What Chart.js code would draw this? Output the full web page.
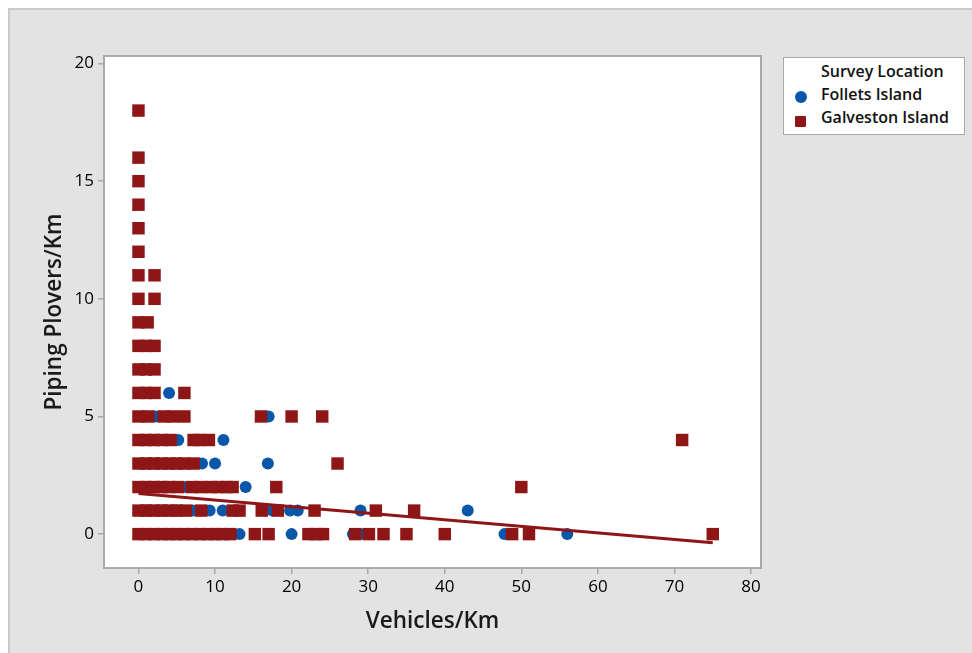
<!DOCTYPE html>
<html>
<head>
<meta charset="utf-8">
<title>Piping Plovers vs Vehicles</title>
<script src="https://cdn.jsdelivr.net/npm/chart.js@4.4.1/dist/chart.umd.min.js"></script>
<style>
  html, body { margin: 0; padding: 0; background: #fff; }
  #wrap { position: relative; width: 972px; height: 653px; overflow: hidden; }
  #panel {
    position: absolute; left: 8px; top: 8px; width: 980px; height: 660px;
    background: #e3e3e3; border-left: 2px solid #cbcbcb; border-top: 2px solid #cbcbcb;
  }
  #chart { position: absolute; left: 0; top: 0; }
  #legend {
    position: absolute; left: 783px; top: 57px; width: 180px; height: 76px;
    background: #fff; border: 1px solid #a9a9a9;
    font-family: 'Open Sans', sans-serif; font-size: 16px; font-weight: 600; color: #111;
  }
  #legend .row { position: absolute; left: 37px; white-space: nowrap; }
  #legend .dot { position: absolute; left: 11px; width: 12px; height: 12px; border-radius: 50%; }
  #legend .sq { position: absolute; left: 11px; width: 11px; height: 11px; border-radius: 1px; }
</style>
</head>
<body>
<div id="wrap">
  <div id="panel"></div>
  <canvas id="chart" width="972" height="653"></canvas>
  <div id="legend">
    <div class="row" style="top:2px">Survey Location</div>
    <span class="dot" style="top:33px;background:#0a56a8"></span>
    <div class="row" style="top:25px">Follets Island</div>
    <span class="sq" style="top:58px;background:#8e1616"></span>
    <div class="row" style="top:48px">Galveston Island</div>
  </div>
</div>
<script>
// plovers per km (y levels) and the vehicles per km counted at each level
const galvestonLevels = [18, 16, 15, 14, 13, 12, 11, 10, 9, 8, 7, 6, 5, 4, 3, 2, 1, 0];
const galvestonVehicles = [
  [0], [0], [0], [0], [0], [0],
  [0, 2.1], [0, 2.1], [0, 1.2],
  [0, 1, 2.1], [0, 1, 2.1], [0, 1, 2.1, 6],
  [0, 1.3, 3.3, 4.5, 6, 16, 20, 24],
  [0, 1, 2, 3, 4.2, 7.2, 8, 9.2, 71],
  [0, 1, 2, 3, 4, 5, 6, 7.2, 26],
  [0, 1, 2, 3, 4, 5.2, 7, 8.2, 9.5, 10.5, 11.5, 12.3, 18, 50],
  [0, 1, 2, 3, 4, 5, 6.2, 8.2, 12.3, 13.2, 16.1, 18.2, 23, 31, 36],
  [0, 1, 2, 3, 4, 5, 6, 7, 8, 9, 10, 11, 12, 15.2, 17, 22.2, 23.2, 24.1, 28.3, 30.1, 32, 35, 40, 48.8, 51, 75]
];

const folletsLevels = [9, 7, 6, 5, 4, 3, 2, 1, 0];
const folletsVehicles = [
  [0.5], [1.5], [0.5, 4],
  [0.7, 2.2, 17],
  [0.5, 3.5, 5.2, 11.1],
  [0.5, 1.5, 2.5, 3.5, 4.5, 5.5, 8.3, 10, 16.9],
  [1, 3, 6.3, 9, 14],
  [1, 3, 5, 7.1, 9.3, 11, 17.5, 19.8, 20.8, 29, 43],
  [0.5, 2, 4, 6, 8, 10, 13.2, 20, 28, 29, 47.8, 56]
];

// fitted line for Galveston Island
const fitX = [0, 75];
const fitY = [1.73, -0.37];

const xTicks = [0, 10, 20, 30, 40, 50, 60, 70, 80];
const yTicks = [0, 5, 10, 15, 20];

const BLUE = '#0a56a8';
const RED = '#8e1616';

function toPoints(levels, vehicles) {
  const pts = [];
  levels.forEach((y, i) => vehicles[i].forEach(x => pts.push({ x: x, y: y })));
  return pts;
}

const plotFrame = {
  id: 'plotFrame',
  beforeDraw(chart) {
    const { ctx, chartArea: a } = chart;
    ctx.save();
    ctx.fillStyle = '#fff';
    ctx.fillRect(a.left, a.top, a.right - a.left, a.bottom - a.top);
    ctx.restore();
  },
  beforeDatasetsDraw(chart) {
    const { ctx, chartArea: a } = chart;
    ctx.save();
    ctx.strokeStyle = '#a9a9a9';
    ctx.lineWidth = 2;
    ctx.strokeRect(a.left, a.top, a.right - a.left, a.bottom - a.top);
    ctx.restore();
  }
};

Chart.defaults.font.family = "'Open Sans', sans-serif";
Chart.defaults.color = '#111';

new Chart(document.getElementById('chart'), {
  type: 'scatter',
  data: {
    datasets: [
      {
        type: 'line',
        label: 'Fit',
        data: fitX.map((x, i) => ({ x: x, y: fitY[i] })),
        borderColor: RED,
        borderWidth: 3,
        pointRadius: 0,
        fill: false,
        order: 0
      },
      {
        label: 'Galveston Island',
        data: toPoints(galvestonLevels, galvestonVehicles),
        pointStyle: 'rect',
        pointRadius: 8.8,
        backgroundColor: RED,
        borderColor: RED,
        borderWidth: 0,
        order: 1
      },
      {
        label: 'Follets Island',
        data: toPoints(folletsLevels, folletsVehicles),
        pointStyle: 'circle',
        pointRadius: 6,
        backgroundColor: BLUE,
        borderColor: BLUE,
        borderWidth: 0,
        order: 2
      }
    ]
  },
  options: {
    responsive: false,
    animation: false,
    layout: { padding: { top: 56, right: 211, left: 0, bottom: 0 } },
    plugins: { legend: { display: false }, tooltip: { enabled: false } },
    scales: {
      x: {
        type: 'linear',
        min: -4.5,
        max: 81.3,
        afterBuildTicks: s => { s.ticks = xTicks.map(v => ({ value: v })); },
        afterFit: s => { s.height = 85; },
        border: { display: false },
        grid: { drawOnChartArea: false, drawTicks: true, tickLength: 6, color: '#a9a9a9', lineWidth: 1.5 },
        ticks: { font: { size: 17 }, padding: 3, color: '#000' },
        title: { display: true, text: 'Vehicles/Km', font: { size: 22.5, weight: '600' }, padding: { top: 0, bottom: 18 }, color: '#1a1a1a' }
      },
      y: {
        type: 'linear',
        min: -1.44,
        max: 20.32,
        afterBuildTicks: s => { s.ticks = yTicks.map(v => ({ value: v })); },
        afterFit: s => { s.width = 104; },
        border: { display: false },
        grid: { drawOnChartArea: false, drawTicks: true, tickLength: 6, color: '#a9a9a9', lineWidth: 1.5 },
        ticks: { font: { size: 17 }, padding: 4, color: '#000' },
        title: { display: true, text: 'Piping Plovers/Km', font: { size: 22.5, weight: '600' }, padding: { top: 41, bottom: 0 }, color: '#1a1a1a' }
      }
    }
  },
  plugins: [plotFrame]
});
</script>
</body>
</html>
